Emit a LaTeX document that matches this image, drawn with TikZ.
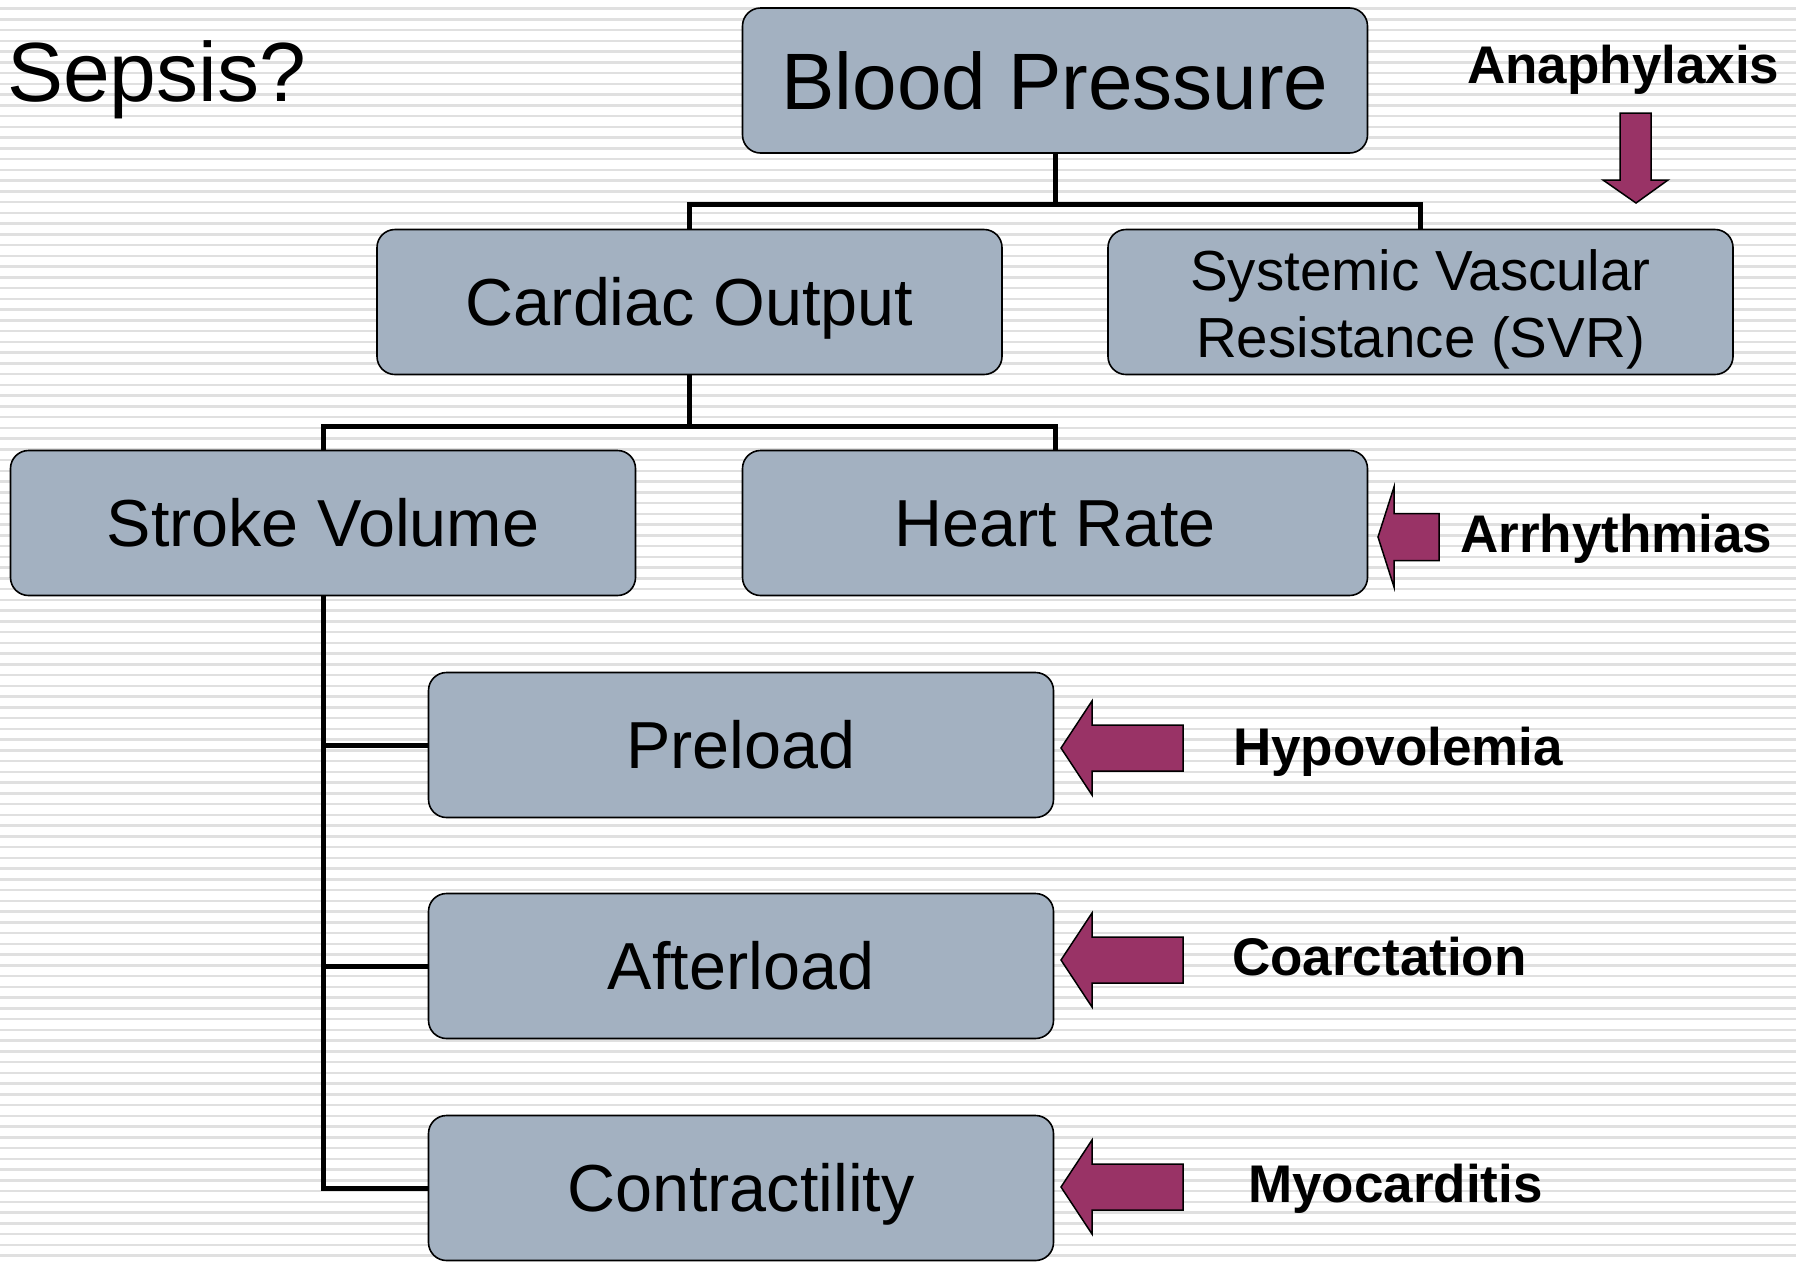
\documentclass[tikz,border=0pt]{standalone}
\usepackage{fontspec}
\setmainfont{Liberation Sans}
\definecolor{boxfill}{RGB}{163,177,193}
\definecolor{arrowfill}{RGB}{153,51,102}
\definecolor{stripecol}{RGB}{224,224,224}
\begin{document}
\begin{tikzpicture}[x=1pt,y=-1pt,
  box/.style={draw=black, line width=1.6pt, fill=boxfill, rounded corners=18pt,
    minimum width=625pt, minimum height=145pt, inner sep=0pt},
  midtext/.style={font=\fontsize{66.5}{70}\selectfont, text height=47.6pt, text depth=0pt},
  conn/.style={line width=5pt, draw=black},
  sidelabel/.style={font=\bfseries\fontsize{53}{60}\selectfont, anchor=base west, inner sep=0pt},
  purplearrow/.style={draw=black, line width=1.5pt, fill=arrowfill, line join=miter},
  leftarrow/.pic={\draw[purplearrow] (0,0) -- (31,-47) -- (31,-23) -- (122,-23) -- (122,23) -- (31,23) -- (31,47) -- cycle;}
]
\useasboundingbox (0,0) rectangle (1796,1262);
\fill[white] (0,0) rectangle (1796,1262);
\foreach \i in {0,...,117}
  \draw[stripecol, line width=2.5pt] (0,8.6+10.75*\i) -- (1796,8.6+10.75*\i);

% boxes
\node[box, font=\fontsize{80}{84}\selectfont, text height=57.3pt, text depth=0pt] (bp) at (1055,80.5) {Blood Pressure};
\node[box, midtext] (co) at (689.5,302) {Cardiac Output};
\node[box, align=center, font=\fontsize{56.5}{67}\selectfont] (svr) at (1420.5,302) {\rule{0pt}{55pt}Systemic Vascular\\Resistance (SVR)};
\node[box, midtext] (sv) at (323,523) {Stroke Volume};
\node[box, midtext] (hr) at (1055,523) {Heart Rate};
\node[box, midtext] (pre) at (741,745) {Preload};
\node[box, midtext] (aft) at (741,966) {Afterload};
\node[box, midtext] (con) at (741,1188) {Contractility};

% connectors
\coordinate (j1) at (1055,204);
\coordinate (j2) at (689.5,426);
\draw[conn] (bp.south) -- (j1);
\draw[conn] (co.north) |- (j1) -| (svr.north);
\draw[conn] (co.south) -- (j2);
\draw[conn] (sv.north) |- (j2) -| (hr.north);
\draw[conn] (sv.south) |- (pre.west);
\draw[conn] (sv.south) |- (aft.west);
\draw[conn] (sv.south) |- (con.west);

% labels
\node[font=\fontsize{84}{88}\selectfont, anchor=base west, inner sep=0pt] (sepsis) at (7,101) {Sepsis?};
\node[sidelabel] (ana) at (1467,83) {Anaphylaxis};
\node[sidelabel] (arr) at (1460,552) {Arrhythmias};
\node[sidelabel] (hypo) at (1233,765) {Hypovolemia};
\node[sidelabel] (coarc) at (1232,975) {Coarctation};
\node[sidelabel] (myo) at (1248,1202) {Myocarditis};

% arrows
\draw[purplearrow] (1636,203) -- (1603,180) -- (1620,180) -- (1620,113) -- (1651,113) -- (1651,180) -- (1668,180) -- cycle;
\draw[purplearrow] (1378,537) -- (1394,487) -- (1394,513.5) -- (1439,513.5) -- (1439,560.5) -- (1394,560.5) -- (1394,587) -- cycle;
\pic at (1061,748) {leftarrow};
\pic at (1061,960) {leftarrow};
\pic at (1061,1187) {leftarrow};
\end{tikzpicture}
\end{document}
